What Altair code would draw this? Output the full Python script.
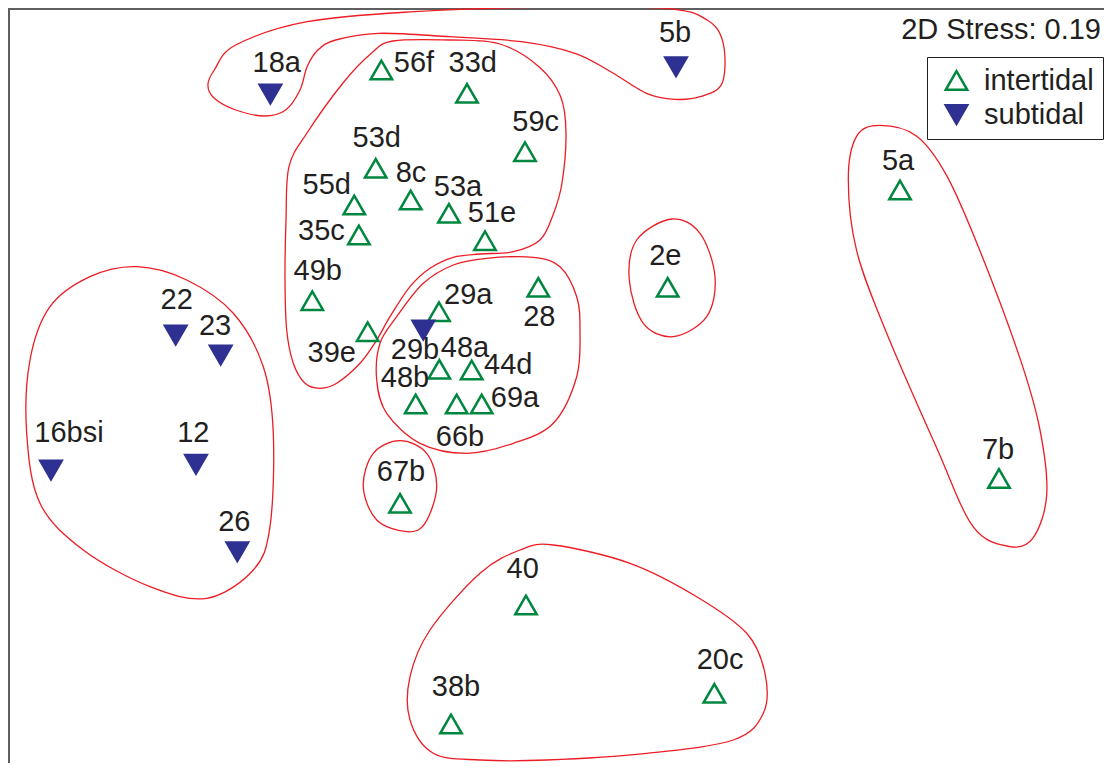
import altair as alt
import pandas as pd

# ---- sample points (ordination coordinates; y grows downward) ----
samples = ["56f", "33d", "59c", "53d", "8c", "55d", "53a", "35c", "51e", "49b", "39e",
           "29a", "28", "2e", "5a", "7b", "48a", "44d", "48b", "66b", "69a", "67b",
           "40", "20c", "38b",
           "18a", "5b", "22", "23", "16bsi", "12", "26", "29b"]
habitat = ["intertidal"] * 25 + ["subtidal"] * 8
coord_x = [381.4, 467.0, 525.0, 375.7, 410.7, 354.3, 448.9, 358.9, 485.0, 312.3, 367.7,
           439.0, 538.3, 667.7, 900.0, 999.0, 439.3, 471.7, 415.7, 456.7, 481.7, 400.0,
           526.0, 714.3, 451.0,
           270.4, 676.0, 175.7, 220.7, 51.0, 196.0, 237.3, 423.3]
coord_y = [70.0, 93.3, 151.7, 168.3, 200.0, 205.0, 213.3, 235.0, 240.7, 300.7, 331.7,
           311.7, 287.3, 287.3, 190.0, 478.5, 369.3, 370.0, 404.0, 404.0, 404.0, 503.3,
           605.0, 693.3, 724.0,
           94.0, 66.7, 335.0, 355.0, 470.0, 464.3, 551.7, 330.0]
label_x = [414.0, 472.7, 535.7, 376.8, 411.0, 326.8, 458.0, 321.4, 492.0, 317.7, 331.7,
           468.3, 539.3, 665.3, 898.0, 998.0, 465.0, 508.3, 405.0, 460.0, 515.0, 401.0,
           522.7, 720.0, 456.0,
           276.8, 675.0, 176.7, 215.0, 69.0, 193.3, 234.3, 415.0]
label_y = [62.5, 62.5, 121.7, 138.0, 173.0, 185.0, 187.0, 231.0, 213.0, 270.7, 353.3,
           295.0, 316.7, 256.0, 161.0, 450.0, 347.7, 365.0, 378.3, 436.7, 398.3, 471.7,
           569.3, 660.0, 686.7,
           63.3, 33.3, 300.0, 326.0, 432.7, 432.7, 521.7, 350.0]

# ---- cluster outlines ----
hull_A = [(207.9, 85), (214.3, 70), (235.7, 45), (307.1, 21.7), (414.3, 11.7), (539.3, 7.3),
          (664.3, 8.3), (707.1, 20), (723.2, 43.3), (722.1, 83.3), (700, 96.7), (675, 99.3),
          (646.4, 93.3), (610.7, 71.7), (575, 53.3), (521.4, 41.7), (450, 36.7), (378.6, 33.3),
          (335.7, 40), (317.9, 50), (307.1, 66.7), (300, 90), (285.7, 110), (264.3, 116),
          (235.7, 110), (214.3, 98.3)]
hull_B = [(392.9, 41), (450, 40), (500, 44), (539, 66.7), (560.7, 96.7), (566, 133), (562, 183),
          (553, 215), (540, 240), (513.3, 251.7), (480, 254), (453.3, 257.3), (430, 268.3),
          (410, 286.7), (390, 316.7), (376.7, 340), (360, 363.3), (336.7, 383.3), (320, 388.3),
          (305, 383.3), (293.3, 363.3), (286.7, 330), (285, 280), (286, 220), (289, 166.7),
          (307, 133), (343, 83), (371.4, 53.3)]
hull_C = [(380, 343.3), (396.7, 316.7), (423.3, 283.3), (453.3, 265), (486.7, 258.3),
          (533.3, 257.3), (560, 266.7), (576.7, 296.7), (580, 330), (576.7, 376.7),
          (553.3, 423.3), (513.3, 443.3), (466.7, 453.3), (420, 443.3), (386.7, 413.3),
          (376.7, 380)]
hull_D = [(136.7, 266.7), (186.7, 280), (233.3, 313.3), (263.3, 366.7), (273.3, 433.3),
          (270, 526.7), (253.3, 570), (206.7, 598.3), (150, 586.7), (83.3, 550), (40, 503.3),
          (26.7, 433.3), (30, 360), (50, 306.7), (90, 276.7)]
hull_E = [(880, 125.4), (916.7, 136.2), (946.7, 175.6), (980, 250.9), (1020, 358.4),
          (1040, 430), (1046.7, 494.6), (1033.3, 537.6), (1010, 546.6), (973.3, 526.9),
          (936.7, 448), (886.7, 333.3), (856.7, 250.9), (848.3, 179.2), (856.7, 136.2)]
hull_F = [(671.7, 219), (700, 233.3), (715, 276.7), (706.7, 316.7), (673.3, 336.7),
          (643.3, 323.3), (629.3, 280), (636.7, 240)]
hull_G = [(400, 440.7), (426.7, 453.3), (436.7, 486.7), (425, 523.3), (406.7, 531.7),
          (376.7, 520), (363.3, 486.7), (373.3, 453.3)]
hull_H = [(553.3, 545), (630, 563.3), (696.7, 596.7), (746.7, 633.3), (765, 673.3),
          (763.3, 713.3), (733.3, 740), (646.7, 753.3), (546.7, 760), (480, 760),
          (433.3, 753.3), (410, 720), (410, 676.7), (430, 630), (480, 573.3), (520, 550)]

stress_text = "2D Stress: 0.19"

GREEN = "#00873f"
NAVY = "#2e3192"
RED = "#ed1c24"
INK = "#231f20"
FONT = "Liberation Sans"
W, H = 1096, 755

pts = pd.DataFrame({"sample": samples, "habitat": habitat, "x": coord_x, "y": coord_y,
                    "lx": label_x, "ly": label_y})
rows = []
for name, hull in [("A", hull_A), ("B", hull_B), ("C", hull_C), ("D", hull_D),
                   ("E", hull_E), ("F", hull_F), ("G", hull_G), ("H", hull_H)]:
    for i, (hx, hy) in enumerate(hull):
        rows.append({"hull": name, "i": i, "x": hx, "y": hy})
hulls = pd.DataFrame(rows)

xs = alt.Scale(domain=[8, 8 + W], nice=False, zero=False)
ys = alt.Scale(domain=[8, 8 + H], nice=False, zero=False, reverse=True)

hull_layer = alt.Chart(hulls).mark_line(
    interpolate="cardinal-closed", color=RED, strokeWidth=1.3
).encode(
    x=alt.X("x:Q", scale=xs, axis=None),
    y=alt.Y("y:Q", scale=ys, axis=None),
    detail="hull:N",
    order="i:Q",
)

hab_dom = ["intertidal", "subtidal"]
point_layer = alt.Chart(pts).mark_point(size=460, strokeWidth=2.5, opacity=1).encode(
    x=alt.X("x:Q", scale=xs, axis=None),
    y=alt.Y("y:Q", scale=ys, axis=None),
    shape=alt.Shape("habitat:N", scale=alt.Scale(domain=hab_dom, range=["triangle-up", "triangle-down"]),
                    legend=alt.Legend(title=None)),
    stroke=alt.Stroke("habitat:N", scale=alt.Scale(domain=hab_dom, range=[GREEN, NAVY]),
                      legend=alt.Legend(title=None)),
    fill=alt.Fill("habitat:N", scale=alt.Scale(domain=hab_dom, range=["transparent", NAVY]),
                  legend=alt.Legend(title=None)),
)

label_layer = alt.Chart(pts).mark_text(
    font=FONT, fontSize=29, color=INK, align="center", baseline="middle"
).encode(
    x=alt.X("lx:Q", scale=xs, axis=None),
    y=alt.Y("ly:Q", scale=ys, axis=None),
    text="sample:N",
)

stress_layer = alt.Chart(pd.DataFrame({"t": [stress_text]})).mark_text(
    font=FONT, fontSize=29, color=INK, align="right", baseline="middle"
).encode(x=alt.value(W - 3), y=alt.value(22), text="t:N")

top_line = alt.Chart(pd.DataFrame({"a": [0]})).mark_rule(color="#5f5f5f", strokeWidth=2).encode(
    x=alt.value(0), x2=alt.value(W), y=alt.value(1))
left_line = alt.Chart(pd.DataFrame({"a": [0]})).mark_rule(color="#5f5f5f", strokeWidth=2).encode(
    x=alt.value(1), y=alt.value(0), y2=alt.value(H))

chart = alt.layer(
    top_line, left_line, hull_layer, point_layer, label_layer, stress_layer
).properties(
    width=W, height=H, padding=0,
    autosize=alt.AutoSizeParams(type="none"),
).configure_view(stroke=None).configure_legend(
    orient="none", legendX=919, legendY=49, padding=9, symbolOffset=6,
    strokeColor=INK, fillColor="white",
    labelFont=FONT, labelFontSize=29, labelColor=INK, labelOffset=13,
    symbolSize=460, symbolStrokeWidth=2.5, rowPadding=4,
)

chart.save("out.html", embed_options={"renderer": "svg", "actions": False})
